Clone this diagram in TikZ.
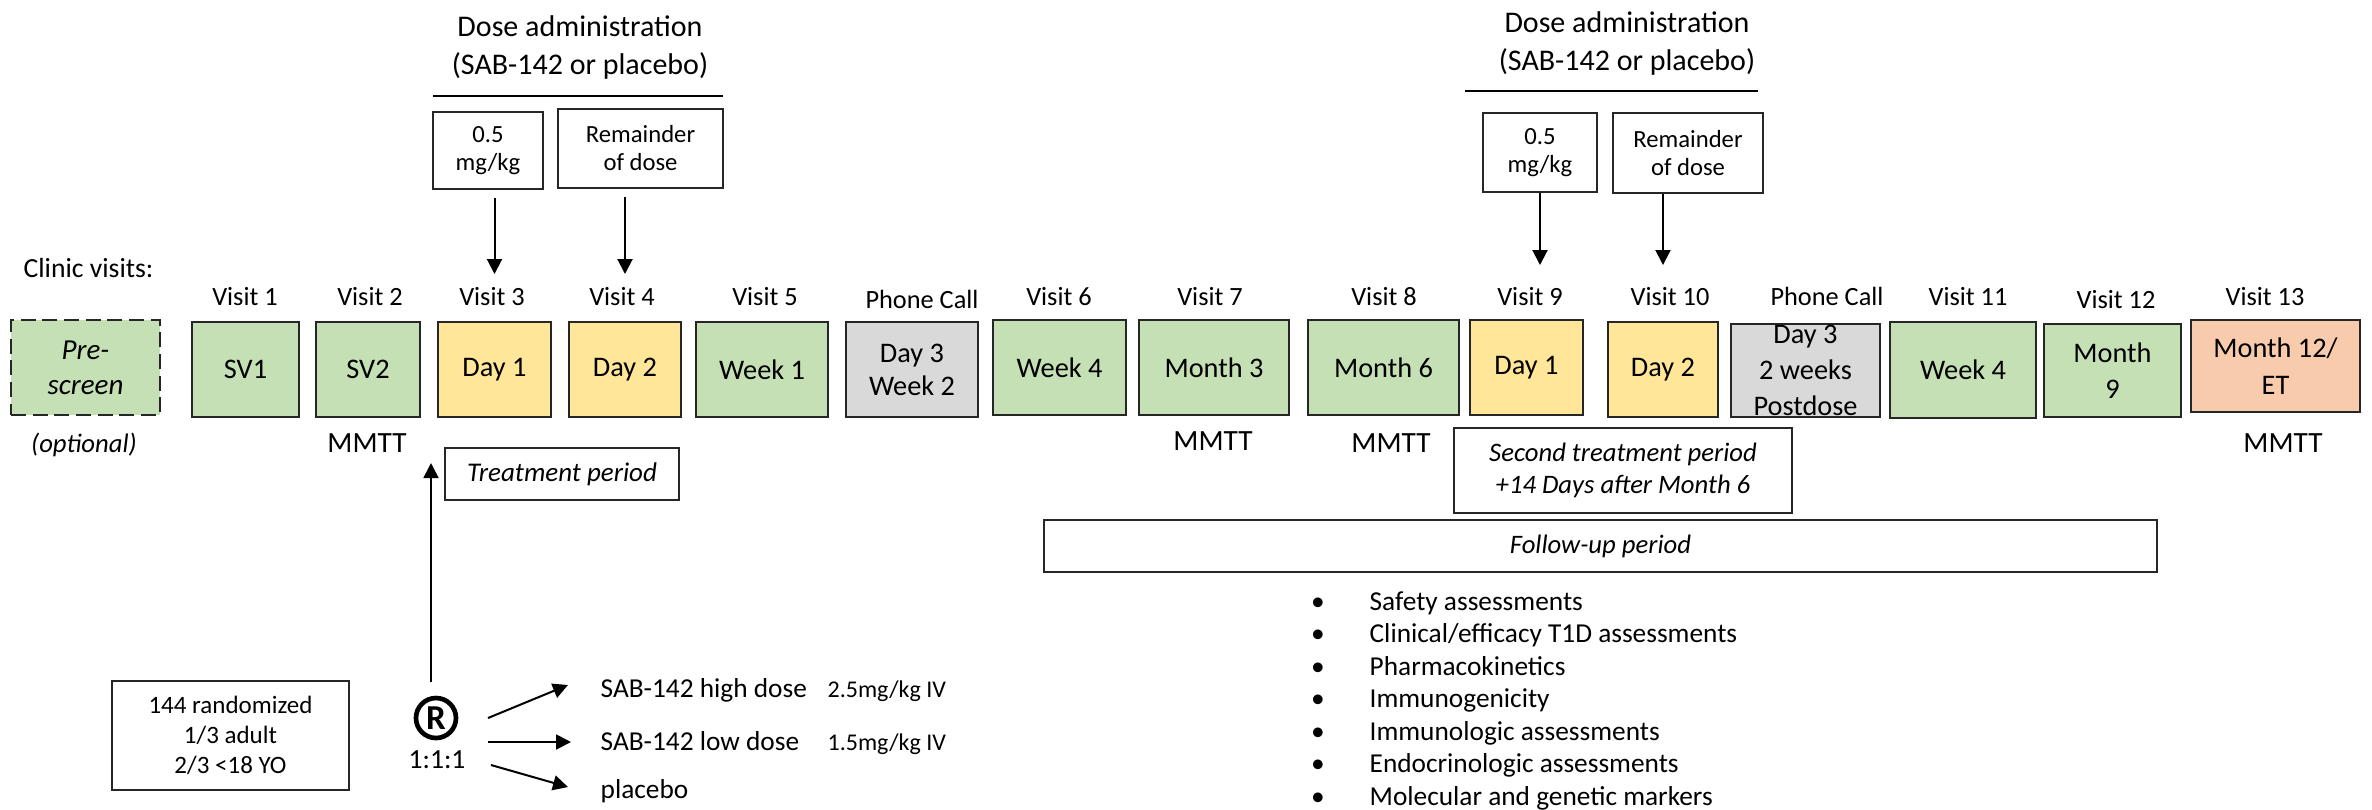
\documentclass[tikz,border=0pt]{standalone}
\usepackage{fontspec}
\setmainfont{Carlito}
\usetikzlibrary{arrows.meta}
\definecolor{cgreen}{HTML}{C5E0B4}
\definecolor{cyellow}{HTML}{FFE699}
\definecolor{cgray}{HTML}{D9D9D9}
\definecolor{corange}{HTML}{F8CBAD}
\definecolor{cline}{HTML}{262626}
\begin{document}
\begin{tikzpicture}[x=0.3pt,y=-0.3pt,
  sz/.style 2 args={minimum width=#1*0.3pt, minimum height=#2*0.3pt},
  vbox/.style={draw=cline, line width=0.7pt, inner sep=0pt, align=center, font=\fontsize{8.5}{11}\selectfont},
  pbox/.style={draw=cline, line width=0.6pt, inner sep=0pt, align=center, font=\fontsize{7.4}{8.4}\selectfont},
  lbl/.style={inner sep=0pt, align=center, font=\fontsize{8.5}{10.8}\selectfont},
  vlab/.style={inner sep=0pt, anchor=base, font=\fontsize{7.9}{9}\selectfont},
  txt/.style={inner sep=0pt, font=\fontsize{8.3}{10}\selectfont},
  arr/.style={-{Triangle[length=4.5pt,width=4.5pt]}, line width=0.6pt, draw=black},
]
\useasboundingbox (0,0) rectangle (2372,809);

% ---- Dose administration headers ----
\node[inner sep=0pt, align=center, font=\fontsize{9}{11.4}\selectfont] (dose1) at (580,47) {Dose administration\\(SAB-142 or placebo)};
\node[inner sep=0pt, align=center, font=\fontsize{9}{11.4}\selectfont] (dose2) at (1627,43) {Dose administration\\(SAB-142 or placebo)};
\coordinate (l1a) at (433,96); \coordinate (l1b) at (723,96);
\coordinate (l2a) at (1465,91); \coordinate (l2b) at (1758,91);
\draw[line width=0.6pt] (l1a) -- (l1b);
\draw[line width=0.6pt] (l2a) -- (l2b);

\node[pbox, sz={110}{77}] (b05a) at (488,150.5) {0.5\\mg/kg};
\node[pbox, sz={165}{79}] (rema) at (640.5,148.5) {Remainder\\of dose};
\node[pbox, sz={114}{79}] (b05b) at (1540,152.5) {0.5\\mg/kg};
\node[pbox, sz={150}{80}] (remb) at (1688,153) {Remainder\\of dose};

% ---- Clinic visits ----
\node[txt, anchor=base west] (cv) at (23,277) {Clinic visits:};

\node[vlab] (v1) at (245,305) {Visit 1};
\node[vlab] (v2) at (370,305) {Visit 2};
\node[vlab] (v3) at (492,305) {Visit 3};
\node[vlab] (v4) at (622,305) {Visit 4};
\node[vlab] (v5) at (765,305) {Visit 5};
\node[vlab] (pc1) at (922,308) {Phone Call};
\node[vlab] (v6) at (1059,305) {Visit 6};
\node[vlab] (v7) at (1210,305) {Visit 7};
\node[vlab] (v8) at (1384,305) {Visit 8};
\node[vlab] (v9) at (1530,305) {Visit 9};
\node[vlab] (v10) at (1670,305) {Visit 10};
\node[vlab] (pc2) at (1827,305) {Phone Call};
\node[vlab] (v11) at (1968,305) {Visit 11};
\node[vlab] (v12) at (2116,308) {Visit 12};
\node[vlab] (v13) at (2265,305) {Visit 13};

\node[vbox, fill=cgreen, dash pattern=on 4.5pt off 2pt, sz={149}{95}, font=\fontsize{8.7}{10.5}\selectfont\itshape] (pre) at (85.5,367.5) {Pre-\\screen};
\node[vbox, fill=cgreen, sz={107}{95}] (sv1) at (245.5,369.5) {SV1};
\node[vbox, fill=cgreen, sz={104}{95}] (sv2) at (368,369.5) {SV2};
\node[vbox, fill=cyellow, sz={113}{95}] (d1) at (494.5,369.5) {Day 1};
\node[vbox, fill=cyellow, sz={112}{95}] (d2) at (625,369.5) {Day 2};
\node[vbox, fill=cgreen, sz={132}{95}] (wk1) at (762,369.5) {Week 1};
\node[vbox, fill=cgray, sz={132}{95}, font=\fontsize{8.5}{9.9}\selectfont] (ph1) at (912,369.5) {Day 3\\Week 2};
\node[vbox, fill=cgreen, sz={133}{95}] (wk4) at (1059.5,367.5) {Week 4};
\node[vbox, fill=cgreen, sz={150}{95}] (m3) at (1214,367.5) {Month 3};
\node[vbox, fill=cgreen, sz={151}{95}] (m6) at (1383.5,367.5) {Month 6};
\node[vbox, fill=cyellow, sz={113}{95}] (d1b) at (1526.5,367.5) {Day 1};
\node[vbox, fill=cyellow, sz={110}{95}] (d2b) at (1663,369.5) {Day 2};
\node[vbox, fill=cgray, sz={149}{93}, label={[lbl]center:Day 3\\2 weeks\\Postdose}] (ph2) at (1805.5,370.5) {};
\node[vbox, fill=cgreen, sz={146}{96}] (wk4b) at (1963,370) {Week 4};
\node[vbox, fill=cgreen, sz={137}{93}] (m9) at (2112.5,370.5) {Month\\9};
\node[vbox, fill=corange, sz={169}{92}] (m12) at (2275.5,366) {Month 12/\\ET};

% ---- dose arrows ----
\coordinate (ea) at (0,274);
\coordinate (eb) at (0,265);
\draw[arr, shorten <=2.5pt] (b05a.south -| d1) -- (ea -| d1);
\draw[arr, shorten <=2.5pt] (rema.south -| d2) -- (ea -| d2);
\draw[arr] (b05b.south) -- (b05b.south |- eb);
\draw[arr] (remb.south -| d2b) -- (eb -| d2b);

% ---- below boxes ----
\node[txt, anchor=base, font=\fontsize{8}{10}\selectfont\itshape] (opt) at (84,452) {(optional)};
\node[txt, anchor=base, font=\fontsize{8.8}{10}\selectfont] (mm1) at (367,452) {MMTT};
\node[txt, anchor=base, font=\fontsize{8.8}{10}\selectfont] (mm2) at (1213,450) {MMTT};
\node[txt, anchor=base, font=\fontsize{8.8}{10}\selectfont] (mm3) at (1391,452) {MMTT};
\node[txt, anchor=base, font=\fontsize{8.8}{10}\selectfont] (mm4) at (2283,452) {MMTT};

\node[pbox, sz={234}{52}, font=\fontsize{8.1}{10}\selectfont\itshape] (tper) at (562,474) {Treatment period};
\node[pbox, sz={338}{85}, font=\fontsize{8}{9.6}\selectfont\itshape] (stper) at (1623,470.5) {Second treatment period\\+14 Days after Month 6};
\node[pbox, sz={1113}{52}, font=\fontsize{8}{10}\selectfont\itshape] (fu) at (1600.5,546) {Follow-up period};

% ---- randomisation ----
\node[pbox, sz={237}{109}, font=\fontsize{7.5}{9}\selectfont] (rand) at (230.5,735.5) {144 randomized\\1/3 adult\\2/3 <18 YO};
\node[circle, draw=black, line width=1.4pt, minimum size=12pt, inner sep=0pt, font=\fontsize{10.5}{10.5}\selectfont\bfseries] (rnode) at (436,718) {R};
\node[txt, anchor=base] (ratio) at (437,768) {1:1:1};

\coordinate (upt) at (431,463);
\draw[arr, line width=0.5pt, shorten <=4pt] (rnode.north -| upt) -- (upt);

\node[txt, anchor=base west, font=\fontsize{8.2}{10}\selectfont] (hi) at (600,697) {SAB-142 high dose};
\node[txt, anchor=base west, font=\fontsize{8.2}{10}\selectfont] (lo) at (600,750) {SAB-142 low dose};
\node[txt, anchor=base west, font=\fontsize{8.2}{10}\selectfont] (pl) at (600,798) {placebo};
\node[txt, anchor=base west, font=\fontsize{7.2}{9}\selectfont] (hid) at (827,697) {2.5mg/kg IV};
\node[txt, anchor=base west, font=\fontsize{7.2}{9}\selectfont] (lod) at (827,750) {1.5mg/kg IV};

\coordinate (r1s) at (488,718); \coordinate (r1e) at (568,685);
\coordinate (r2s) at (488,742); \coordinate (r2e) at (571,742);
\coordinate (r3s) at (491,765); \coordinate (r3e) at (568,787);
\draw[arr] (r1s) -- (r1e);
\draw[arr] (r2s) -- (r2e);
\draw[arr] (r3s) -- (r3e);

% ---- assessments list ----
\foreach \t [count=\i] in {Safety assessments, Clinical/efficacy T1D assessments, Pharmacokinetics, Immunogenicity, Immunologic assessments, Endocrinologic assessments, Molecular and genetic markers}{
  \pgfmathsetmacro{\yy}{610+32.5*(\i-1)}
  \node[txt, anchor=base, font=\fontsize{8.2}{10}\selectfont] (bl\i) at (1318,\yy) {•};
  \node[txt, anchor=base west, font=\fontsize{8.2}{10}\selectfont] (bt\i) at (1369,\yy) {\t};
}
\end{tikzpicture}
\end{document}
